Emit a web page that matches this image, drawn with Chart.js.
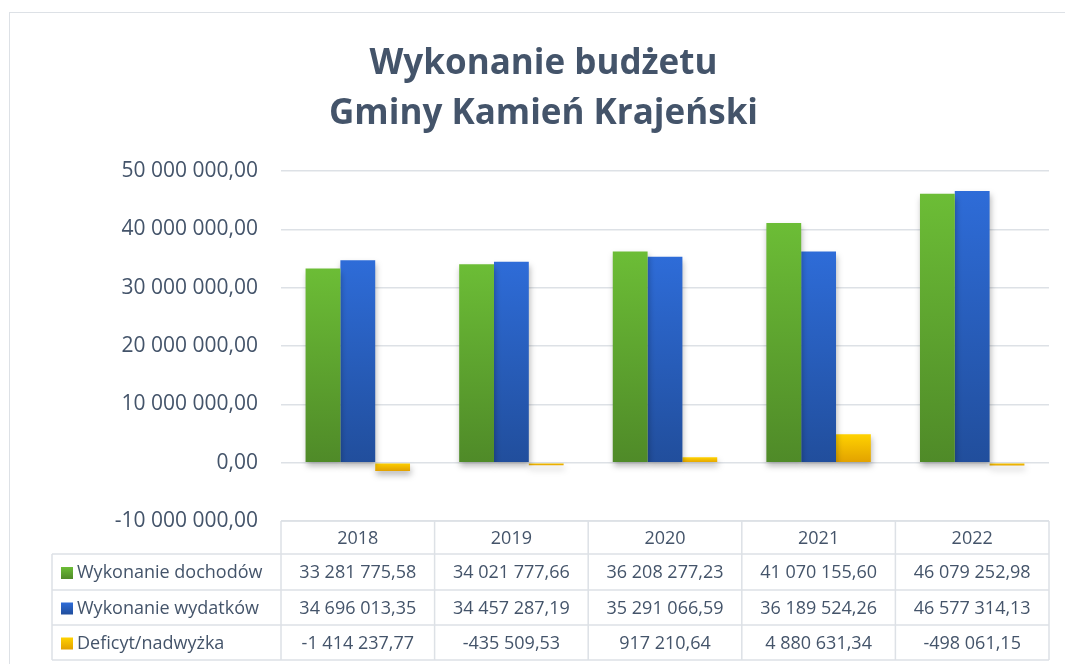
<!DOCTYPE html>
<html><head><meta charset="utf-8">
<script src="https://cdn.jsdelivr.net/npm/chart.js@4.4.0/dist/chart.umd.min.js"></script>
<style>
html,body{margin:0;padding:0;background:#fff;}
#wrap{position:relative;width:1065px;height:664px;overflow:hidden;}
#frame{position:absolute;left:9px;top:12px;width:1100px;height:700px;border:1.5px solid #dde1e6;box-sizing:border-box;}
canvas{position:absolute;left:0;top:0;}
</style></head><body>
<div id="wrap"><div id="frame"></div><canvas id="c" width="1065" height="664"></canvas></div>
<script>
const years = ['2018','2019','2020','2021','2022'];
const seriesNames = ['Wykonanie dochodów','Wykonanie wydatków','Deficyt/nadwyżka'];
const dochody = [33281775.58, 34021777.66, 36208277.23, 41070155.60, 46079252.98];
const wydatki = [34696013.35, 34457287.19, 35291066.59, 36189524.26, 46577314.13];
const deficyt = [-1414237.77, -435509.53, 917210.64, 4880631.34, -498061.15];
const yMin = -10000000, yMax = 50000000, yStep = 10000000;
const titleLines = ['Wykonanie budżetu','Gminy Kamień Krajeński'];

const seriesValues = [dochody, wydatki, deficyt];
const colorsTop = ['#6cbd36','#2e6cd8','#ffd200'];
const colorsBottom = ['#4f8a28','#214e9c','#e2a100'];
const TXT = '#44546A';
const FONT = "'Open Sans', sans-serif";

function fmt(v){
  const neg = v < 0;
  let [i,d] = Math.abs(v).toFixed(2).split('.');
  i = i.replace(/\B(?=(\d{3})+(?!\d))/g,' ');
  return (neg?'-':'') + i + ',' + d;
}
function grad(k){
  return (ctx) => {
    const c = ctx.chart;
    if (!c.chartArea || ctx.type !== 'data') return colorsBottom[k];
    const y = c.scales.y;
    const p1 = y.getPixelForValue(ctx.raw), p0 = y.getPixelForValue(0);
    const g = c.ctx.createLinearGradient(0, Math.min(p0,p1), 0, Math.max(p0,p1)+0.01);
    g.addColorStop(0, colorsTop[k]); g.addColorStop(1, colorsBottom[k]);
    return g;
  };
}

const shadowPlugin = {
  id:'shadow',
  beforeDatasetsDraw(chart){ const c=chart.ctx; c.save(); c.shadowColor='rgba(0,0,0,0.28)'; c.shadowBlur=6; c.shadowOffsetX=1; c.shadowOffsetY=4; },
  afterDatasetsDraw(chart){ chart.ctx.restore(); }
};

const rowEdges = [554, 590, 625, 660];
const legendLeft = 52;
const tablePlugin = {
  id:'table',
  afterDraw(chart){
    const c = chart.ctx, ca = chart.chartArea;
    const n = years.length, colW = ca.width / n;
    const top = ca.bottom;
    c.save();
    c.strokeStyle = '#dde1e6'; c.lineWidth = 1.5;
    c.beginPath();
    c.moveTo(ca.left, top); c.lineTo(ca.right, top);
    rowEdges.forEach(y => { c.moveTo(legendLeft, y); c.lineTo(ca.right, y); });
    for (let i = 0; i <= n; i++) { const x = ca.left + colW*i; c.moveTo(x, top); c.lineTo(x, rowEdges[rowEdges.length-1]); }
    c.moveTo(legendLeft, rowEdges[0]); c.lineTo(legendLeft, rowEdges[rowEdges.length-1]);
    c.stroke();
    c.fillStyle = TXT; c.textBaseline = 'middle';
    c.font = "18px " + FONT; c.textAlign = 'center';
    const xs = chart.scales.x;
    years.forEach((yr,i) => c.fillText(yr, xs.getPixelForValue(i), (top + rowEdges[0])/2 + 1));
    seriesValues.forEach((vals, r) => {
      const yc = (rowEdges[r] + rowEdges[r+1])/2 + 1;
      vals.forEach((v,i) => { c.fillStyle = TXT; c.textAlign='center'; c.fillText(fmt(v), xs.getPixelForValue(i), yc); });
      const g = c.createLinearGradient(0, yc-6, 0, yc+6);
      g.addColorStop(0, colorsTop[r]); g.addColorStop(1, colorsBottom[r]);
      c.fillStyle = g; c.fillRect(61, yc-6, 12, 12);
      c.fillStyle = TXT; c.textAlign = 'left';
      c.fillText(seriesNames[r], 77, yc);
    });
    c.restore();
  }
};

new Chart(document.getElementById('c'), {
  type:'bar',
  data:{
    labels: years,
    datasets: seriesValues.map((vals,k)=>({
      label: seriesNames[k], data: vals, backgroundColor: grad(k), borderWidth:0,
      categoryPercentage:0.68, barPercentage:1
    }))
  },
  options:{
    responsive:false, animation:false,
    layout:{padding:{left:38, right:16, top:0, bottom:143}},
    plugins:{
      legend:{display:false}, tooltip:{enabled:false},
      title:{display:true, text:titleLines, color:TXT,
        font:{family:FONT, size:35, weight:'bold', lineHeight:50/35},
        padding:{top:39, bottom:32}}
    },
    scales:{
      x:{display:false},
      y:{min:yMin, max:yMax,
        afterFit(s){ s.width = 243; },
        border:{display:false},
        grid:{color:'#dde1e6', lineWidth:1.5, drawTicks:false},
        ticks:{stepSize:yStep, padding:23, color:TXT, font:{family:FONT, size:21},
          callback:(v)=>fmt(v)}
      }
    }
  },
  plugins:[shadowPlugin, tablePlugin]
});
</script>
</body></html>
